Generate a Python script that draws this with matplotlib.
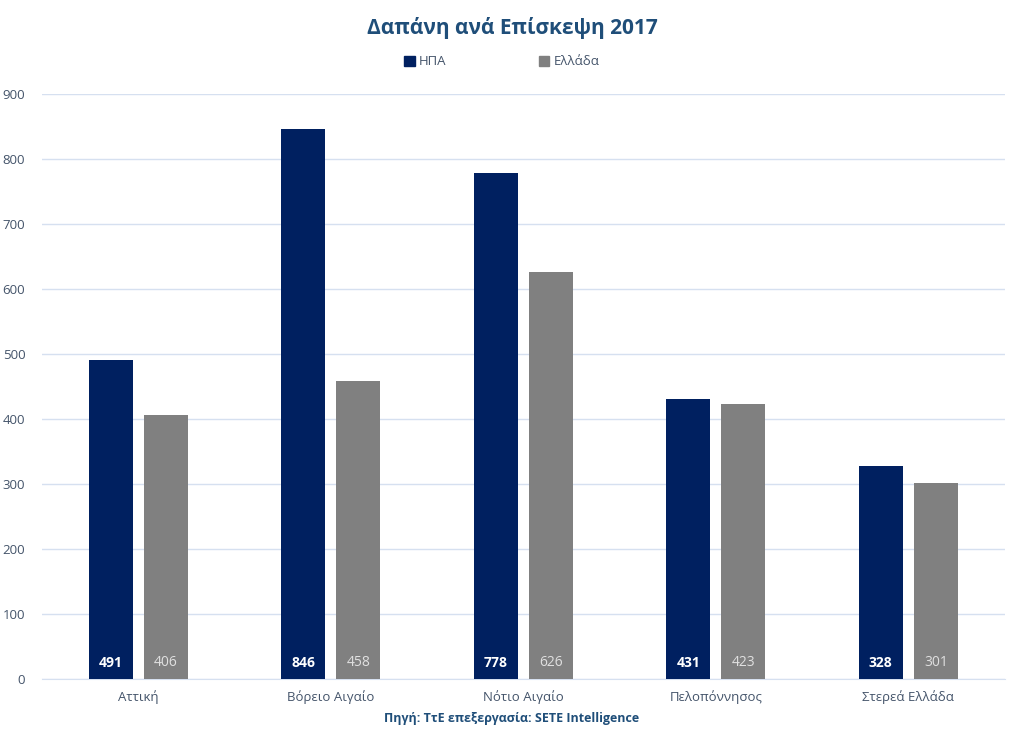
import matplotlib
matplotlib.use("Agg")
import matplotlib.pyplot as plt
import numpy as np
from matplotlib.patches import Patch

plt.rcParams['font.family'] = ['Open Sans', 'DejaVu Sans']

categories = ["Αττική", "Βόρειο Αιγαίο", "Νότιο Αιγαίο", "Πελοπόννησος", "Στερεά Ελλάδα"]
usa = [491, 846, 778, 431, 328]
greece = [406, 458, 626, 423, 301]
series_names = ["ΗΠΑ", "Ελλάδα"]
yticks = [0, 100, 200, 300, 400, 500, 600, 700, 800, 900]

navy = "#002060"
grey = "#808080"
title_col = "#1F4E79"
tick_col = "#44546A"
grid_col = "#D6E0F0"

fig = plt.figure(figsize=(10.24, 7.45), dpi=100)
ax = fig.add_axes([0.041, 0.0886, 0.94, 0.7852])

x = np.arange(len(categories))
w = 0.229
off = 0.143
ax.bar(x - off, usa, width=w, color=navy, zorder=3)
ax.bar(x + off, greece, width=w, color=grey, zorder=3)

for xi, v in zip(x, usa):
    ax.text(xi - off, 25, str(v), ha='center', va='center', color='white',
            fontsize=10, fontweight='bold', zorder=4)
for xi, v in zip(x, greece):
    ax.text(xi + off, 25, str(v), ha='center', va='center', color='#E0E0E0',
            fontsize=10, zorder=4)

ax.set_xlim(-0.5, len(categories) - 0.5)
ax.set_ylim(0, 900)
ax.set_yticks(yticks)
ax.set_yticklabels([str(t) for t in yticks])
ax.set_xticks(x)
ax.set_xticklabels(categories)
ax.tick_params(axis='both', length=0, colors=tick_col, labelsize=9.5)
ax.tick_params(axis='x', pad=8)
ax.tick_params(axis='y', pad=12)
ax.grid(axis='y', color=grid_col, linewidth=1, zorder=0)
for s in ['top', 'right', 'left']:
    ax.spines[s].set_visible(False)
ax.spines['bottom'].set_color(grid_col)

fig.text(0.5, 0.962, "Δαπάνη ανά Επίσκεψη 2017", ha='center', va='center',
         fontsize=15, fontweight='bold', color=title_col)

handles = [Patch(color=navy), Patch(color=grey)]
fig.legend(handles, series_names, loc='center', bbox_to_anchor=(0.49, 0.917),
           ncol=2, frameon=False, fontsize=9.5, handlelength=0.8, handleheight=0.8,
           handletextpad=0.3, columnspacing=7, labelcolor=tick_col)

fig.text(0.5, 0.036, "Πηγή: ΤτΕ επεξεργασία: SETE Intelligence", ha='center', va='center',
         fontsize=9, fontweight='bold', color=title_col)

fig.savefig("out.png", dpi=100)
